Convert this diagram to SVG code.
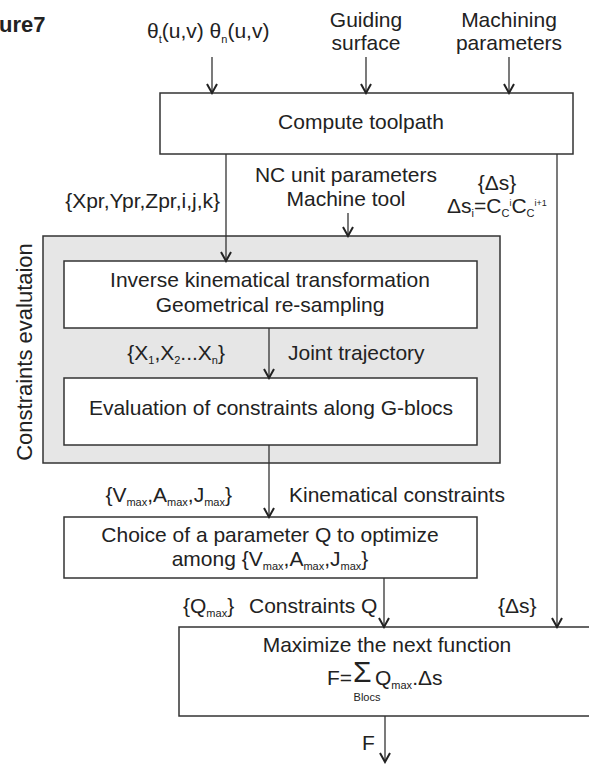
<svg xmlns="http://www.w3.org/2000/svg" width="589" height="771" viewBox="0 0 589 771">
  <style>
    text { font-family: "Liberation Sans", Arial, sans-serif; font-size: 21px; fill: #222; }
    .c { text-anchor: middle; }
    .e { text-anchor: end; }
    .s { font-size: 11px; }
    .sup { font-size: 9px; }
    .box { fill: #fff; stroke: #333; stroke-width: 1.5; }
    .group { fill: #e6e6e6; stroke: #333; stroke-width: 1.5; }
    .ln { fill: none; stroke: #333; stroke-width: 1.3; marker-end: url(#arr); }
  </style>
  <defs>
    <marker id="arr" markerWidth="12" markerHeight="12" markerUnits="userSpaceOnUse" orient="auto" refX="10" refY="6" viewBox="0 0 12 12">
      <path d="M1,1 L10,6 L1,11" fill="none" stroke="#222" stroke-width="2"/>
    </marker>
  </defs>

  <!-- caption fragment at top left -->
  <text x="-1" y="32" style="font-weight:bold;font-size:22px">ure7</text>

  <!-- input labels -->
  <g id="inputs">
    <text x="147" y="38">θ<tspan class="s" dy="5">t</tspan><tspan dy="-5">(u,v) θ</tspan><tspan class="s" dy="5">n</tspan><tspan dy="-5">(u,v)</tspan></text>
    <text class="c" x="366" y="27">Guiding</text>
    <text class="c" x="366" y="50">surface</text>
    <text class="c" x="509" y="27">Machining</text>
    <text class="c" x="509" y="50">parameters</text>
  </g>

  <!-- constraints evaluation group -->
  <g id="constraints-group">
    <rect class="group" x="43" y="236" width="457" height="227"/>
    <text class="c" transform="translate(32,352) rotate(-90)" style="font-size:22px">Constraints evalutaion</text>
  </g>

  <g id="compute-toolpath">
    <rect class="box" x="160" y="93" width="413" height="61"/>
    <text class="c" x="361" y="129">Compute toolpath</text>
  </g>

  <g id="inverse-kinematics">
    <rect class="box" x="64" y="261" width="413" height="67"/>
    <text class="c" x="270" y="287">Inverse kinematical transformation</text>
    <text class="c" x="270" y="312">Geometrical re-sampling</text>
  </g>

  <g id="evaluate-constraints">
    <rect class="box" x="64" y="378" width="413" height="67"/>
    <text class="c" x="271" y="415">Evaluation of constraints along G-blocs</text>
  </g>

  <g id="choose-parameter">
    <rect class="box" x="64" y="517" width="413" height="61"/>
    <text class="c" x="270" y="542">Choice of a parameter Q to optimize</text>
    <text class="c" x="270" y="566">among {V<tspan class="s" dy="4">max</tspan><tspan dy="-4">,A</tspan><tspan class="s" dy="4">max</tspan><tspan dy="-4">,J</tspan><tspan class="s" dy="4">max</tspan><tspan dy="-4">}</tspan></text>
  </g>

  <g id="maximize">
    <rect class="box" x="179" y="627" width="412" height="89"/>
    <text class="c" x="387" y="652">Maximize the next function</text>
    <text x="327" y="685">F=</text>
    <text x="353" y="682" style="font-size:30px">Σ</text>
    <text x="375" y="685">Q<tspan class="s" dy="4">max</tspan><tspan dy="-4">.Δs</tspan></text>
    <text class="c" x="367" y="701" style="font-size:11px">Blocs</text>
  </g>

  <!-- connectors -->
  <g id="connectors">
    <line class="ln" x1="212" y1="57" x2="212" y2="93"/>
    <line class="ln" x1="366" y1="57" x2="366" y2="93"/>
    <line class="ln" x1="509" y1="57" x2="509" y2="93"/>
    <line class="ln" x1="226" y1="154" x2="226" y2="261"/>
    <line class="ln" x1="348" y1="213" x2="348" y2="236"/>
    <line class="ln" x1="269" y1="328" x2="269" y2="378"/>
    <line class="ln" x1="269" y1="445" x2="269" y2="517"/>
    <line class="ln" x1="384" y1="578" x2="384" y2="627"/>
    <line class="ln" x1="557" y1="154" x2="557" y2="627"/>
    <line class="ln" x1="385" y1="716" x2="385" y2="762"/>
  </g>

  <!-- connector labels -->
  <g id="labels">
    <text class="e" x="220" y="208">{Xpr,Ypr,Zpr,i,j,k}</text>
    <text class="c" x="346" y="182">NC unit parameters</text>
    <text class="c" x="346" y="206">Machine tool</text>
    <text class="c" x="497" y="190">{Δs}</text>
    <text x="447" y="213">Δs<tspan class="s" dy="4">i</tspan><tspan dy="-4">=C</tspan><tspan class="s" dy="4">C</tspan><tspan class="sup" dy="-11">i</tspan><tspan dy="7">C</tspan><tspan class="s" dy="4">C</tspan><tspan class="sup" dy="-11">i+1</tspan></text>
    <text class="e" x="225" y="360">{X<tspan class="s" dy="4">1</tspan><tspan dy="-4">,X</tspan><tspan class="s" dy="4">2</tspan><tspan dy="-4">...X</tspan><tspan class="s" dy="4">n</tspan><tspan dy="-4">}</tspan></text>
    <text x="288" y="360">Joint trajectory</text>
    <text class="e" x="232" y="502">{V<tspan class="s" dy="4">max</tspan><tspan dy="-4">,A</tspan><tspan class="s" dy="4">max</tspan><tspan dy="-4">,J</tspan><tspan class="s" dy="4">max</tspan><tspan dy="-4">}</tspan></text>
    <text x="289" y="502">Kinematical constraints</text>
    <text x="183" y="613">{Q<tspan class="s" dy="4">max</tspan><tspan dy="-4">}</tspan></text>
    <text x="249" y="613">Constraints Q</text>
    <text x="498" y="613">{Δs}</text>
    <text x="362" y="750">F</text>
  </g>
</svg>
